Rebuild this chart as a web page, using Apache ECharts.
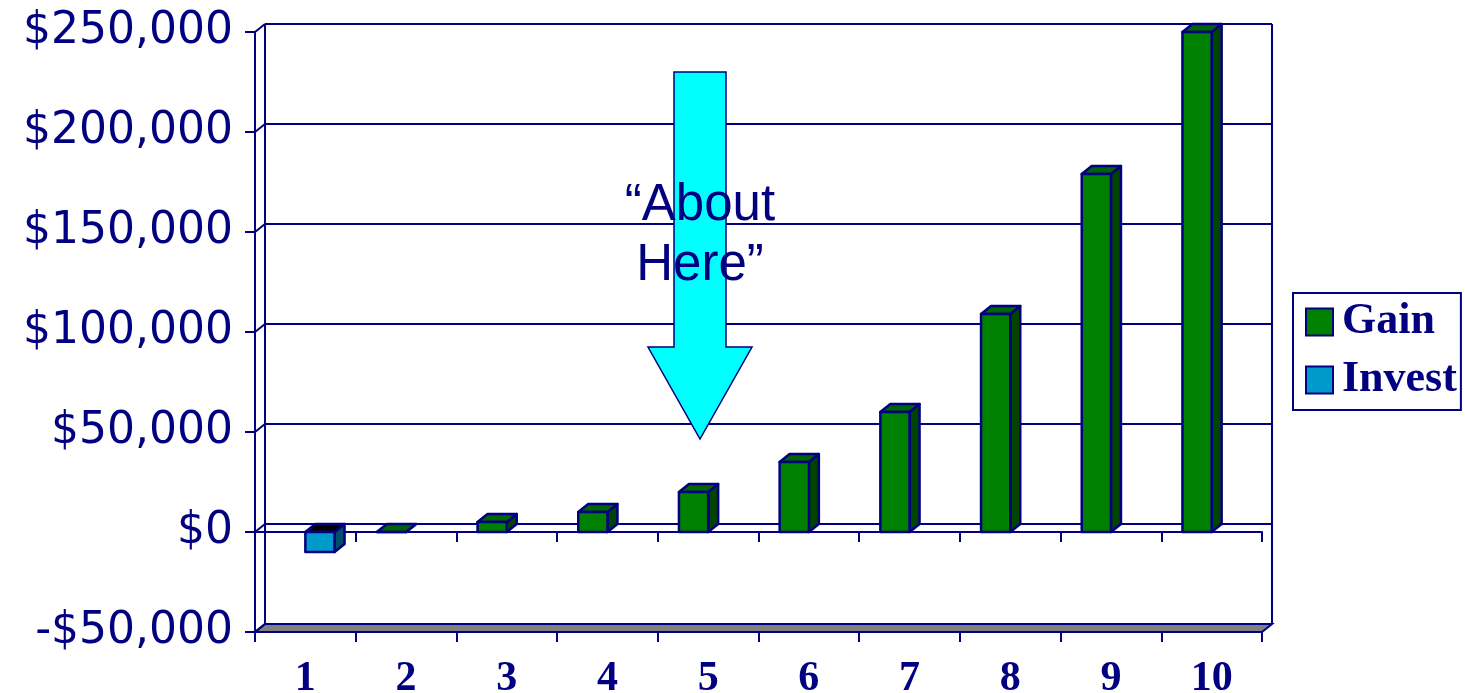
<!DOCTYPE html>
<html>
<head>
<meta charset="utf-8">
<script src="https://cdn.jsdelivr.net/npm/echarts@6/dist/echarts.min.js"></script>
<style>
  html, body { margin: 0; padding: 0; background: #ffffff; }
  #chart { width: 1465px; height: 693px; }
</style>
</head>
<body>
<div id="chart"></div>
<script>
// Years along the bottom and the dollar amounts for each series
const years = ['1', '2', '3', '4', '5', '6', '7', '8', '9', '10'];
const gain = [null, 0, 5000, 10000, 20000, 35000, 60000, 109000, 179000, 250000];
const invest = [-10000, null, null, null, null, null, null, null, null, null];

// Value axis range and the levels drawn on the back wall
const valueMin = -50000;
const valueMax = 250000;
const valueStep = 50000;
const wallLevels = [-50000, 0, 50000, 100000, 150000, 200000, 250000];

const NAVY = '#000080';
const DX = 10;   // horizontal depth of the box
const DY = -8;   // vertical depth of the box

function money(v) {
  const s = Math.abs(v).toLocaleString('en-US');
  return (v < 0 ? '-$' : '$') + s;
}

function toPairs(arr) {
  const out = [];
  arr.forEach(function (v, i) { if (v !== null) out.push([i, v]); });
  return out;
}

// Draws a column as a front face, a right side face and a top face
function columnRenderer(side, colors) {
  return function (params, api) {
    const c = api.value(0);
    const v = api.value(1);
    const p0 = api.coord([c, 0]);
    const p1 = api.coord([c, v]);
    const band = api.size([1, 0])[0];
    const w = band * 0.29;
    const x0 = side < 0 ? p0[0] - w : p0[0];
    const x1 = x0 + w;
    const yTop = Math.min(p0[1], p1[1]);
    const yBot = Math.max(p0[1], p1[1]);
    const edge = { stroke: NAVY, lineWidth: 2.5, lineJoin: 'round' };
    return {
      type: 'group',
      children: [
        { type: 'polygon', shape: { points: [[x1, yTop], [x1 + DX, yTop + DY], [x1 + DX, yBot + DY], [x1, yBot]] },
          style: Object.assign({ fill: colors.side }, edge) },
        { type: 'polygon', shape: { points: [[x0, yTop], [x0 + DX, yTop + DY], [x1 + DX, yTop + DY], [x1, yTop]] },
          style: Object.assign({ fill: colors.top }, edge) },
        { type: 'rect', shape: { x: x0, y: yTop, width: w, height: yBot - yTop },
          style: Object.assign({ fill: colors.front }, edge) }
      ]
    };
  };
}

// Back wall, side wall connectors and the grey floor
function wallRenderer(params, api) {
  const v = api.value(0);
  const cs = params.coordSys;
  const xL = cs.x;
  const xR = cs.x + cs.width;
  const y = api.coord([0, v])[1];
  const line = { stroke: NAVY, lineWidth: 2 };
  const kids = [];
  if (v === valueMin) {
    const yTopWall = api.coord([0, valueMax])[1];
    kids.push({ type: 'polygon', shape: { points: [[xL, y], [xR, y], [xR + DX, y + DY], [xL + DX, y + DY]] },
      style: { fill: '#808080', stroke: NAVY, lineWidth: 2 } });
    kids.push({ type: 'line', shape: { x1: xL + DX, y1: yTopWall + DY, x2: xL + DX, y2: y + DY }, style: line });
    kids.push({ type: 'line', shape: { x1: xR + DX, y1: yTopWall + DY, x2: xR + DX, y2: y + DY }, style: line });
  }
  kids.push({ type: 'line', shape: { x1: xL, y1: y, x2: xL + DX, y2: y + DY }, style: line });
  kids.push({ type: 'line', shape: { x1: xL + DX, y1: y + DY, x2: xR + DX, y2: y + DY }, style: line });
  return { type: 'group', children: kids };
}

const chart = echarts.init(document.getElementById('chart'), null, { renderer: 'canvas' });

const categoryAxisBase = {
  type: 'category',
  data: years,
  gridIndex: 0,
  position: 'bottom',
  boundaryGap: true,
  axisLine: { show: true, lineStyle: { color: NAVY, width: 2 } },
  axisTick: { show: true, length: 10, lineStyle: { color: NAVY, width: 2 } },
  splitLine: { show: false }
};

chart.setOption({
  animation: false,
  backgroundColor: '#ffffff',
  grid: { left: 255, top: 32, width: 1007, height: 600, containLabel: false, outerBoundsMode: 'none' },
  legend: {
    orient: 'vertical',
    left: 1293,
    top: 293,
    icon: 'rect',
    itemWidth: 27,
    itemHeight: 27,
    itemGap: 14,
    padding: [7, 4, 8, 12],
    backgroundColor: '#ffffff',
    borderColor: NAVY,
    borderWidth: 2,
    selectedMode: false,
    textStyle: { color: NAVY, fontFamily: 'Liberation Serif', fontWeight: 'bold', fontSize: 44, lineHeight: 44, padding: [0, 0, 0, 4] },
    data: [
      { name: 'Gain', itemStyle: { color: '#008000', borderColor: NAVY, borderWidth: 2 } },
      { name: 'Invest', itemStyle: { color: '#0099CC', borderColor: NAVY, borderWidth: 2 } }
    ]
  },
  xAxis: [
    Object.assign({}, categoryAxisBase, {
      axisLine: { show: true, onZero: false, lineStyle: { color: NAVY, width: 2 } },
      axisLabel: { show: true, color: NAVY, fontFamily: 'Liberation Serif', fontWeight: 'bold', fontSize: 42, margin: 26 }
    }),
    Object.assign({}, categoryAxisBase, {
      axisLine: { show: true, onZero: true, lineStyle: { color: NAVY, width: 2 } },
      axisLabel: { show: false }
    })
  ],
  yAxis: {
    type: 'value',
    min: valueMin,
    max: valueMax,
    interval: valueStep,
    axisLine: { show: true, lineStyle: { color: NAVY, width: 2 } },
    axisTick: { show: true, length: 10, lineStyle: { color: NAVY, width: 2 } },
    splitLine: { show: false },
    axisLabel: { color: NAVY, fontFamily: 'DejaVu Sans', fontSize: 44, margin: 22, formatter: money }
  },
  series: [
    {
      name: 'walls',
      type: 'custom',
      silent: true,
      z: 1,
      xAxisIndex: 0,
      yAxisIndex: 0,
      encode: { y: 0 },
      data: wallLevels.map(function (v) { return [v]; }),
      renderItem: wallRenderer
    },
    {
      name: 'Gain',
      type: 'custom',
      z: 3,
      xAxisIndex: 0,
      yAxisIndex: 0,
      itemStyle: { color: '#008000', borderColor: NAVY, borderWidth: 2 },
      encode: { x: 0, y: 1 },
      data: toPairs(gain),
      renderItem: columnRenderer(-1, { front: '#008000', side: '#004400', top: '#006400' })
    },
    {
      name: 'Invest',
      type: 'custom',
      z: 3,
      xAxisIndex: 0,
      yAxisIndex: 0,
      itemStyle: { color: '#0099CC', borderColor: NAVY, borderWidth: 2 },
      encode: { x: 0, y: 1 },
      data: toPairs(invest),
      renderItem: columnRenderer(1, { front: '#0099CC', side: '#00506B', top: '#000000' })
    }
  ],
  graphic: [
    {
      type: 'polygon',
      z: 50,
      shape: { points: [[674, 72], [726, 72], [726, 347], [752, 347], [700, 439], [648, 347], [674, 347]] },
      style: { fill: '#00FFFF', stroke: NAVY, lineWidth: 1.5 }
    },
    {
      type: 'text',
      z: 51,
      x: 700,
      y: 176,
      style: {
        text: '\u201CAbout\nHere\u201D',
        fill: NAVY,
        fontFamily: 'Liberation Sans',
        fontSize: 51,
        lineHeight: 60,
        align: 'center',
        verticalAlign: 'top',
        textAlign: 'center',
        textVerticalAlign: 'top'
      }
    }
  ]
});
</script>
</body>
</html>
